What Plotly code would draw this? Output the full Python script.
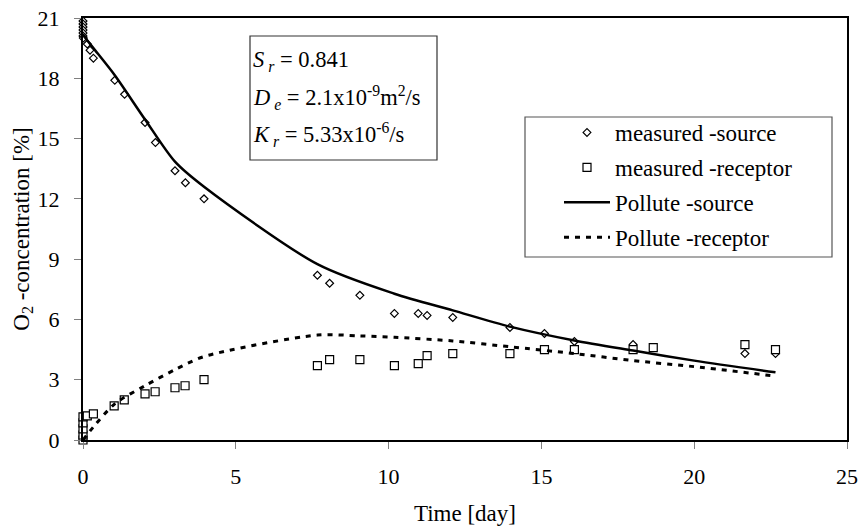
import plotly.graph_objects as go

# ---- data ----
src_t = [0, 0, 0, 0, 0, 0, 0.01, 0.14, 0.23, 0.34, 1.04, 1.36, 2.03, 2.37, 3.01, 3.35, 3.96,
         7.67, 8.07, 9.06, 10.19, 10.97, 11.26, 12.1, 13.97, 15.1, 16.08, 18.0, 21.66, 22.66]
src_o2 = [20.85, 20.7, 20.55, 20.4, 20.25, 20.1, 20.0, 19.7, 19.4, 19.0, 17.9, 17.2, 15.8, 14.8, 13.4, 12.8, 12.0,
          8.2, 7.8, 7.2, 6.3, 6.3, 6.2, 6.1, 5.6, 5.3, 4.9, 4.75, 4.3, 4.3]

rec_t = [0, 0, 0, 0, 0, 0.14, 0.34, 1.02, 1.35, 2.03, 2.36, 3.01, 3.34, 3.96,
         7.67, 8.07, 9.06, 10.19, 10.97, 11.26, 12.1, 13.97, 15.1, 16.08, 18.0, 18.66, 21.66, 22.66]
rec_o2 = [0.0, 0.25, 0.55, 0.85, 1.15, 1.2, 1.3, 1.7, 2.0, 2.3, 2.4, 2.6, 2.7, 3.0,
          3.7, 4.0, 4.0, 3.7, 3.8, 4.2, 4.3, 4.3, 4.5, 4.5, 4.5, 4.6, 4.75, 4.5]

mod_src_t = [0, 0.34, 1.04, 2.03, 3.01, 3.96, 7.67, 10.19, 12.1, 13.97, 16.08, 18.0, 20.0, 22.66]
mod_src_o2 = [20.15, 19.5, 18.15, 15.95, 13.85, 12.6, 8.75, 7.28, 6.45, 5.64, 4.95, 4.45, 3.95, 3.37]

mod_rec_t = [0, 0.34, 1.04, 2.03, 3.01, 3.96, 7.67, 9.06, 10.19, 12.1, 13.97, 16.08, 18.0, 20.0, 22.66]
mod_rec_o2 = [0.0, 0.65, 1.8, 2.7, 3.5, 4.15, 5.22, 5.18, 5.11, 4.93, 4.64, 4.3, 3.95, 3.65, 3.18]

x_ticks = [0, 5, 10, 15, 20, 25]
y_ticks = [0, 3, 6, 9, 12, 15, 18, 21]

FONT = "Liberation Serif"

fig = go.Figure()
fig.add_trace(go.Scatter(x=src_t, y=src_o2, mode="markers", name="measured -source",
                         legendgroup="a",
                         marker=dict(symbol="diamond", size=6, color="white",
                                     line=dict(color="black", width=1.2)),
                         cliponaxis=False))
fig.add_trace(go.Scatter(x=rec_t, y=rec_o2, mode="markers", name="measured -receptor",
                         legendgroup="b",
                         marker=dict(symbol="square", size=8, color="white",
                                     line=dict(color="black", width=1.2)),
                         cliponaxis=False))
fig.add_trace(go.Scatter(x=mod_src_t, y=mod_src_o2, mode="lines", name="Pollute -source",
                         legendgroup="c",
                         line=dict(color="black", width=2.5, shape="spline", smoothing=0.8)))
fig.add_trace(go.Scatter(x=mod_rec_t, y=mod_rec_o2, mode="lines", name="Pollute -receptor",
                         legendgroup="d",
                         line=dict(color="black", width=3, dash="5px,6px", shape="spline",
                                   smoothing=0.8)))

axis_common = dict(showgrid=False, zeroline=False, showline=True, linecolor="black",
                   linewidth=2, mirror=True, ticks="outside", tickcolor="#808080",
                   tickwidth=1, ticklen=7, automargin=False,
                   tickfont=dict(family=FONT, size=22, color="black"))

fig.update_xaxes(range=[0, 25], tickvals=x_ticks, ticklabelstandoff=9,
                 title=dict(text="Time [day]", font=dict(family=FONT, size=23, color="black"),
                            standoff=16),
                 **axis_common)
fig.update_yaxes(range=[0, 21], tickvals=y_ticks, ticklabelstandoff=10,
                 title=dict(text="O<sub>2</sub> -concentration [%]",
                            font=dict(family=FONT, size=23, color="black"), standoff=2),
                 **axis_common)

def px2x(p):
    return (p - 83) / 764

def py2y(p):
    return (440 - p) / 422

shapes = [
    dict(type="rect", xref="paper", yref="paper", x0=px2x(250), x1=px2x(437),
         y0=py2y(160), y1=py2y(36), line=dict(color="#333333", width=1.2)),
    dict(type="rect", xref="paper", yref="paper", x0=px2x(525), x1=px2x(832),
         y0=py2y(257), y1=py2y(117), line=dict(color="#555555", width=1.2)),
]

lines = [
    "<i>S</i><sub> <i>r</i></sub> = 0.841",
    "<i>D</i><sub> <i>e</i></sub> = 2.1x10<sup>-9</sup>m<sup>2</sup>/s",
    "<i>K</i><sub> <i>r</i></sub> = 5.33x10<sup>-6</sup>/s",
]
line_y = [61, 98, 134]
annotations = [
    dict(text=t, xref="paper", yref="paper", x=px2x(251), y=py2y(yy), xanchor="left",
         yanchor="middle", showarrow=False, font=dict(family=FONT, size=22.5, color="black"))
    for t, yy in zip(lines, line_y)
]

fig.update_layout(
    width=862, height=531,
    margin=dict(l=83, r=15, t=18, b=91),
    paper_bgcolor="white", plot_bgcolor="white",
    font=dict(family=FONT, size=23, color="black"),
    showlegend=True,
    legend=dict(x=px2x(559), y=py2y(111), xanchor="left", yanchor="top",
                bgcolor="rgba(0,0,0,0)", borderwidth=0, itemwidth=46,
                tracegroupgap=2, font=dict(family=FONT, size=23, color="black")),
    shapes=shapes,
    annotations=annotations,
)

fig.write_html("out.html", config={"displayModeBar": False},
               post_script="document.body.style.margin='0';")
